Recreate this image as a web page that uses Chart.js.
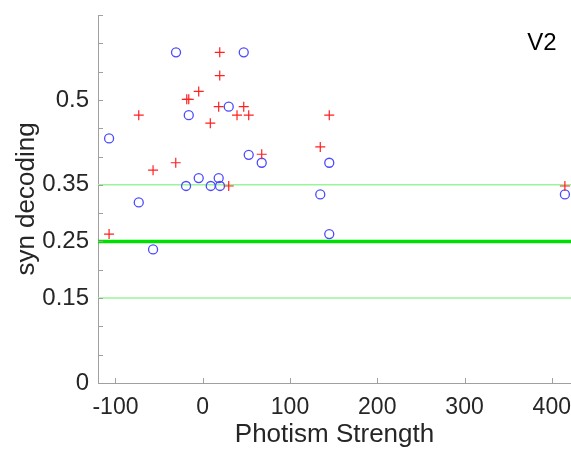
<!DOCTYPE html>
<html>
<head>
<meta charset="utf-8">
<script src="https://cdn.jsdelivr.net/npm/chart.js@4.4.1/dist/chart.umd.min.js"></script>
<style>
  html, body { margin: 0; padding: 0; background: #fff; }
  #wrap { width: 571px; height: 450px; }
</style>
</head>
<body>
<div id="wrap"><canvas id="grafico" width="571" height="450"></canvas></div>
<script>
// photism strength (x) and syn decoding (y)
const redX = [19.5, 19.5, -4.6, -18.3, -16.0, -73.3, 18.3, 47.0, 39.3, 52.7, 8.7, 145.0, 134.7, 67.6, -30.9, -56.9, 29.8, -107.3, 415.0];
const redY = [0.584, 0.543, 0.515, 0.501, 0.501, 0.473, 0.488, 0.488, 0.473, 0.473, 0.459, 0.473, 0.417, 0.404, 0.389, 0.376, 0.348, 0.263, 0.348];
const blueX = [-30.6, 47.0, -16.0, 29.8, -107.3, 52.7, 67.6, 145.0, -4.6, 18.3, -19.1, 9.2, 19.8, 134.7, -73.3, -56.9, 145.0, 415.0];
const blueY = [0.584, 0.584, 0.473, 0.488, 0.432, 0.403, 0.389, 0.389, 0.362, 0.362, 0.348, 0.348, 0.348, 0.333, 0.319, 0.236, 0.263, 0.333];

const chanceLevel = 0.25;
const boundLevels = [0.35, 0.15];

const xRange = [-120, 422];
const yRange = [0, 0.65];
const xTicks = [-100, 0, 100, 200, 300, 400];
const yTickLabels = [0, 0.15, 0.25, 0.35, 0.5];
const yTickMarks = [0, 0.05, 0.1, 0.15, 0.2, 0.25, 0.3, 0.35, 0.4, 0.45, 0.5, 0.55, 0.6, 0.65];
const panelLabel = 'V2';

function pontos(xs, ys) {
    return xs.map((x, i) => ({ x: x, y: ys[i] }));
}

function linhaHorizontal(y) {
    return [{ x: xRange[0], y: y }, { x: xRange[1], y: y }];
}

const corEixo = '#a0a0a0';
const corTexto = '#262626';
const fonte = '"Liberation Sans", Arial, sans-serif';

// inward tick marks (matlab style) + panel label
const marcasInternas = {
    id: 'marcasInternas',
    afterDraw(chart) {
        const ctx = chart.ctx;
        const area = chart.chartArea;
        const sx = chart.scales.x;
        const sy = chart.scales.y;
        ctx.save();
        ctx.strokeStyle = corEixo;
        ctx.lineWidth = 1;
        ctx.beginPath();
        yTickMarks.forEach(v => {
            const py = Math.round(sy.getPixelForValue(v)) + 0.5;
            ctx.moveTo(area.left, py);
            ctx.lineTo(area.left + 5, py);
        });
        xTicks.forEach(v => {
            const px = Math.round(sx.getPixelForValue(v)) + 0.5;
            ctx.moveTo(px, area.bottom);
            ctx.lineTo(px, area.bottom - 5);
        });
        ctx.stroke();

        ctx.fillStyle = '#000';
        ctx.font = '24px ' + fonte;
        ctx.textAlign = 'left';
        ctx.textBaseline = 'middle';
        ctx.fillText(panelLabel, sx.getPixelForValue(372), sy.getPixelForValue(0.6));
        ctx.restore();
    }
};

const graficoEl = document.getElementById('grafico');

const grafico = new Chart(graficoEl, {
    type: 'scatter',
    data: {
        datasets: [
            {
                label: 'chance',
                type: 'line',
                data: linhaHorizontal(chanceLevel),
                borderColor: '#00e000',
                borderWidth: 3.5,
                pointRadius: 0,
                order: 3
            },
            {
                label: 'upper',
                type: 'line',
                data: linhaHorizontal(boundLevels[0]),
                borderColor: '#9af59a',
                borderWidth: 1.5,
                pointRadius: 0,
                order: 3
            },
            {
                label: 'lower',
                type: 'line',
                data: linhaHorizontal(boundLevels[1]),
                borderColor: '#9af59a',
                borderWidth: 1.5,
                pointRadius: 0,
                order: 3
            },
            {
                label: 'blue',
                data: pontos(blueX, blueY),
                pointStyle: 'circle',
                pointRadius: 4.5,
                borderColor: '#4a4aff',
                backgroundColor: 'rgba(0,0,0,0)',
                borderWidth: 1.3,
                order: 2
            },
            {
                label: 'red',
                data: pontos(redX, redY),
                pointStyle: 'cross',
                pointRadius: 5,
                borderColor: '#ff2020',
                borderWidth: 1.2,
                order: 1
            }
        ]
    },
    options: {
        responsive: false,
        animation: false,
        layout: { autoPadding: false, padding: { left: 0, right: 0, top: 15, bottom: 0 } },
        plugins: {
            legend: { display: false },
            tooltip: { enabled: false }
        },
        scales: {
            x: {
                type: 'linear',
                min: xRange[0],
                max: xRange[1],
                afterBuildTicks: (scale) => { scale.ticks = xTicks.map(v => ({ value: v })); },
                afterFit: (scale) => { scale.height = 67; scale.paddingLeft = 0; scale.paddingRight = 0; },
                grid: { display: true, drawOnChartArea: false, drawTicks: false },
                border: { display: true, color: corEixo, width: 1 },
                ticks: {
                    color: corTexto,
                    padding: 11,
                    maxRotation: 0,
                    font: { family: fonte, size: 23 }
                },
                title: {
                    display: true,
                    text: 'Photism Strength',
                    color: corTexto,
                    padding: { top: -6, bottom: 0 },
                    font: { family: fonte, size: 26 }
                }
            },
            y: {
                type: 'linear',
                min: yRange[0],
                max: yRange[1],
                afterBuildTicks: (scale) => { scale.ticks = yTickLabels.map(v => ({ value: v })); },
                afterFit: (scale) => { scale.width = 98; scale.paddingTop = 0; scale.paddingBottom = 0; },
                grid: { display: true, drawOnChartArea: false, drawTicks: false },
                border: { display: true, color: corEixo, width: 1 },
                ticks: {
                    color: corTexto,
                    padding: 9,
                    callback: (v) => String(v),
                    font: { family: fonte, size: 24 }
                },
                title: {
                    display: true,
                    text: 'syn decoding',
                    color: corTexto,
                    padding: { top: 11, bottom: 0 },
                    font: { family: fonte, size: 26 }
                }
            }
        }
    },
    plugins: [marcasInternas]
});
</script>
</body>
</html>
